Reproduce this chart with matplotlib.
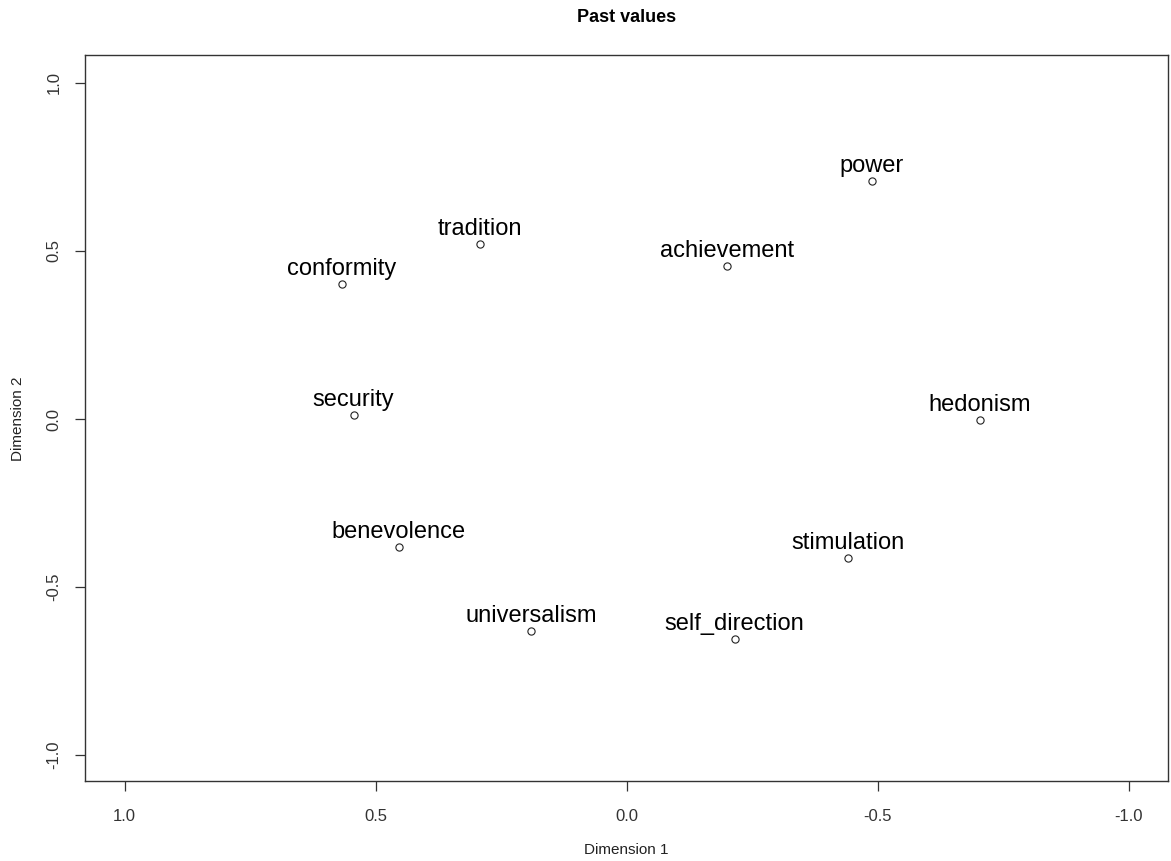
import matplotlib
matplotlib.use("Agg")
import matplotlib.pyplot as plt

plt.rcParams['font.family'] = ['Liberation Sans', 'DejaVu Sans']

labels = ["power", "tradition", "achievement", "conformity", "security",
          "hedonism", "benevolence", "stimulation", "universalism", "self_direction"]
dim1 = [-0.488, 0.293, -0.199, 0.568, 0.544, -0.703, 0.454, -0.440, 0.191, -0.215]
dim2 = [0.708, 0.521, 0.455, 0.402, 0.012, -0.003, -0.381, -0.414, -0.631, -0.655]
ticks = [1.0, 0.5, 0.0, -0.5, -1.0]
tick_labels = ["1.0", "0.5", "0.0", "-0.5", "-1.0"]

W, H = 1171, 861
fig = plt.figure(figsize=(W / 100, H / 100), dpi=100)
ax = fig.add_axes([85 / W, (H - 781) / H, (1168 - 85) / W, (781 - 55) / H])

ax.plot(dim1, dim2, linestyle='none', marker='o', markersize=5.2,
        markerfacecolor='white', markeredgecolor='#222222', markeredgewidth=0.8)
for lab, x, y in zip(labels, dim1, dim2):
    ax.annotate(lab, (x, y), xytext=(0, 6.3), textcoords='offset points',
                ha='center', va='baseline', fontsize=17, color='black')

ax.set_xlim(1.079, -1.078)
ax.set_ylim(-1.077, 1.083)
ax.set_xticks(ticks)
ax.set_xticklabels(tick_labels)
ax.set_yticks(ticks)
ax.set_yticklabels(tick_labels, rotation=90, va='center')
ax.tick_params(direction='out', length=7, width=0.9, labelsize=12,
               colors='#333333', pad=10)
ax.tick_params(axis='x', pad=13)
for s in ax.spines.values():
    s.set_linewidth(1.0)
    s.set_color('#333333')

fig.text((85 + 1168) / 2 / W, 1 - 850 / H, "Dimension 1", ha='center', va='center', fontsize=11, color='#222222')
fig.text(18 / W, 1 - 419 / H, "Dimension 2", ha='center', va='center', rotation=90, fontsize=11, color='#222222')
fig.text((85 + 1168) / 2 / W, 1 - 18 / H, "Past values", ha='center', va='center', fontsize=13, fontweight='bold')

fig.savefig("out.png", dpi=100)
